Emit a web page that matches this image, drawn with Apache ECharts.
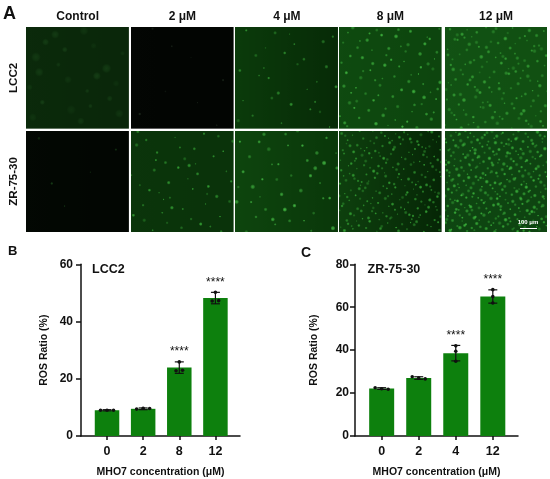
<!DOCTYPE html>
<html>
<head>
<meta charset="utf-8">
<script src="https://cdn.jsdelivr.net/npm/echarts@6/dist/echarts.min.js"></script>
<style>
  html, body { margin: 0; padding: 0; background: #fff; }
  #main { width: 550px; height: 479px; }
</style>
</head>
<body>
<div id="main"></div>
<script>
// panel A headings
const doseLabels = ['Control', '2 μM', '4 μM', '8 μM', '12 μM']
const cellLines = ['LCC2', 'ZR-75-30']

// panel B - LCC2
const catsB = ['0', '2', '8', '12']
const meanB = [9.0, 9.5, 23.9, 48.2]
const sdB = [0.2, 0.3, 2.0, 2.0]
const pointsB = [[9.0, 9.0, 9.0], [9.4, 9.7, 9.6], [22.8, 25.9, 23.0], [47.2, 50.2, 47.3]]
const sigB = ['', '', '****', '****']

// panel C - ZR-75-30
const catsC = ['0', '2', '4', '12']
const meanC = [22.1, 27.0, 38.6, 65.0]
const sdC = [0.4, 0.6, 3.6, 3.1]
const pointsC = [[22.5, 22.0, 21.8], [27.6, 27.0, 26.6], [39.5, 42.0, 34.8], [65.0, 68.2, 62.0]]
const sigC = ['', '', '****', '****']

const FONT = '"Liberation Sans", Arial, sans-serif'
const BAR_GREEN = '#0d800d'

// look of the fluorescence tiles (decoration only, not chart data)
const tileLook = [
  [
    { bg: ['#0b2a0b', '#0a270a'], n: 22, r: 2.4, c: [50, 120, 50], a: 0.3 },
    { bg: ['#030603', '#020502'], n: 8, r: 0.8, c: [100, 140, 100], a: 0.3 },
    { bg: ['#0b3b0b', '#072b07'], n: 30, r: 1.0, c: [70, 200, 70], a: 0.75 },
    { bg: ['#0f4a10', '#0d450e'], n: 85, r: 1.1, c: [80, 220, 80], a: 0.8 },
    { bg: ['#125214', '#115012'], n: 150, r: 1.1, c: [75, 210, 75], a: 0.7 },
  ],
  [
    { bg: ['#030803', '#020602'], n: 5, r: 0.9, c: [60, 160, 60], a: 0.5 },
    { bg: ['#0b350b', '#0a330a'], n: 50, r: 1.0, c: [70, 210, 70], a: 0.75 },
    { bg: ['#0e450e', '#0a380a'], n: 45, r: 1.2, c: [85, 225, 85], a: 0.8 },
    { bg: ['#0e400e', '#062606'], n: 230, r: 0.95, c: [70, 210, 70], a: 0.75 },
    { bg: ['#0f4612', '#0e4411'], n: 330, r: 1.05, c: [75, 220, 75], a: 0.8 },
  ],
]

const tileX = [26.3, 130.9, 235.4, 338.9, 444.6]
const tileY = [27, 130.5]
const tileW = 102.8
const tileH = 101.8

function halton(i, b) {
  let f = 1
  let r = 0
  while (i > 0) {
    f = f / b
    r = r + f * (i % b)
    i = Math.floor(i / b)
  }
  return r
}

// draws one microscopy-like tile onto a canvas
function makeTile(look, seed) {
  const s = 2
  const cv = document.createElement('canvas')
  cv.width = Math.round(tileW * s)
  cv.height = Math.round(tileH * s)
  const ctx = cv.getContext('2d')
  ctx.scale(s, s)
  const g = ctx.createLinearGradient(0, 0, tileW, 0)
  g.addColorStop(0, look.bg[0])
  g.addColorStop(1, look.bg[1])
  ctx.fillStyle = g
  ctx.fillRect(0, 0, tileW, tileH)
  for (let i = 1; i <= look.n; i++) {
    const k = i + seed
    const x = halton(k, 2) * tileW
    const y = halton(k, 3) * tileH
    const r = look.r * (0.6 + 0.8 * halton(k, 5))
    const a = look.a * (0.4 + 0.6 * halton(k, 7))
    const rg = ctx.createRadialGradient(x, y, 0, x, y, r * 1.5)
    rg.addColorStop(0, `rgba(${look.c[0]},${look.c[1]},${look.c[2]},${a})`)
    rg.addColorStop(0.6, `rgba(${look.c[0]},${look.c[1]},${look.c[2]},${a * 0.6})`)
    rg.addColorStop(1, `rgba(${look.c[0]},${look.c[1]},${look.c[2]},0)`)
    ctx.fillStyle = rg
    ctx.beginPath()
    ctx.arc(x, y, r * 1.5, 0, Math.PI * 2)
    ctx.fill()
  }
  return cv
}

const graphics = []
tileLook.forEach((row, ri) => {
  row.forEach((look, ci) => {
    graphics.push({
      type: 'image',
      silent: true,
      style: { image: makeTile(look, ri * 500 + ci * 97 + 3), x: tileX[ci], y: tileY[ri], width: tileW, height: tileH },
    })
  })
})
doseLabels.forEach((t, ci) => {
  graphics.push({
    type: 'text',
    silent: true,
    style: { text: t, x: tileX[ci] + tileW / 2, y: 17, align: 'center', verticalAlign: 'middle', font: `bold 12px ${FONT}`, fill: '#111' },
  })
})
cellLines.forEach((t, ri) => {
  graphics.push({
    type: 'text',
    silent: true,
    x: 14,
    y: tileY[ri] + tileH / 2,
    rotation: Math.PI / 2,
    style: { text: t, x: 0, y: 0, align: 'center', verticalAlign: 'middle', font: `bold 11.5px ${FONT}`, fill: '#111' },
  })
})
// scale bar
graphics.push({
  type: 'text',
  silent: true,
  style: { text: '100 μm', x: 528, y: 222, align: 'center', verticalAlign: 'middle', font: `bold 6px ${FONT}`, fill: '#fff' },
})
graphics.push({
  type: 'line',
  silent: true,
  shape: { x1: 520, y1: 228.5, x2: 537, y2: 228.5 },
  style: { stroke: '#fff', lineWidth: 1 },
})
// panel letters and chart titles
graphics.push({ type: 'text', silent: true, style: { text: 'A', x: 3, y: 14, verticalAlign: 'middle', font: `bold 18px ${FONT}`, fill: '#111' } })
graphics.push({ type: 'text', silent: true, style: { text: 'B', x: 8, y: 251.5, verticalAlign: 'middle', font: `bold 13px ${FONT}`, fill: '#111' } })
graphics.push({ type: 'text', silent: true, style: { text: 'C', x: 301, y: 253.5, verticalAlign: 'middle', font: `bold 14px ${FONT}`, fill: '#111' } })
graphics.push({ type: 'text', silent: true, style: { text: 'LCC2', x: 92, y: 269.5, verticalAlign: 'middle', font: `bold 12.5px ${FONT}`, fill: '#111' } })
graphics.push({ type: 'text', silent: true, style: { text: 'ZR-75-30', x: 367.5, y: 269.5, verticalAlign: 'middle', font: `bold 12.5px ${FONT}`, fill: '#111' } })

function errorRender(params, api) {
  const x = api.value(0)
  const m = api.value(1)
  const s = api.value(2)
  const hi = api.coord([x, m + s])
  const lo = api.coord([x, m - s])
  const cap = 4.5
  const st = { stroke: '#111', lineWidth: 1.2 }
  return {
    type: 'group',
    children: [
      { type: 'line', shape: { x1: hi[0], y1: hi[1], x2: lo[0], y2: lo[1] }, style: st },
      { type: 'line', shape: { x1: hi[0] - cap, y1: hi[1], x2: hi[0] + cap, y2: hi[1] }, style: st },
      { type: 'line', shape: { x1: lo[0] - cap, y1: lo[1], x2: lo[0] + cap, y2: lo[1] }, style: st },
    ],
  }
}

// replicate dots, spread sideways only when they overlap
function pointRender(points) {
  return function (params, api) {
    const i = api.value(0)
    const v = api.value(1)
    const k = api.value(2)
    const ys = points[i].map((p) => api.coord([i, p])[1])
    const near = ys.map((yy, j) => j).filter((j) => Math.abs(ys[j] - ys[k]) < 4)
    const off = (near.indexOf(k) - (near.length - 1) / 2) * 6.5
    const c = api.coord([i, v])
    return { type: 'circle', shape: { cx: c[0] + off, cy: c[1], r: 1.8 }, style: { fill: '#111' } }
  }
}

const sigAll = [sigB, sigC]
function starRender(params, api) {
  const c = api.coord([api.value(0), api.value(1)])
  const t = sigAll[params.seriesIndex === 3 ? 0 : 1][params.dataIndex]
  return {
    type: 'text',
    style: { text: t, x: c[0], y: c[1] - 10, align: 'center', verticalAlign: 'middle', font: `12px ${FONT}`, fill: '#111' },
  }
}

function xAxisFor(gi, cats) {
  return {
    gridIndex: gi,
    type: 'value',
    min: -0.72,
    max: 3.68,
    name: 'MHO7 concentration (μM)',
    nameLocation: 'middle',
    nameGap: 31,
    nameTextStyle: { color: '#111', fontFamily: FONT, fontWeight: 'bold', fontSize: 10.5 },
    axisLine: { show: true, onZero: false, lineStyle: { color: '#111', width: 1.5 } },
    axisTick: { show: true, customValues: [0, 1, 2, 3], length: 4, lineStyle: { color: '#111', width: 1.5 } },
    axisLabel: {
      customValues: [0, 1, 2, 3],
      formatter: (v) => cats[Math.round(v)],
      margin: 9,
      color: '#111',
      fontFamily: FONT,
      fontWeight: 'bold',
      fontSize: 12.5,
    },
    splitLine: { show: false },
  }
}

function yAxisFor(gi, max) {
  return {
    gridIndex: gi,
    type: 'value',
    min: 0,
    max: max,
    interval: 20,
    name: 'ROS Ratio (%)',
    nameLocation: 'middle',
    nameGap: gi === 0 ? 31 : 35,
    nameTextStyle: { color: '#111', fontFamily: FONT, fontWeight: 'bold', fontSize: 10.5 },
    axisLine: { show: true, onZero: false, lineStyle: { color: '#111', width: 1.5 } },
    axisTick: { show: true, length: 5, lineStyle: { color: '#111', width: 1.5 } },
    axisLabel: { margin: gi === 0 ? 8 : 6, color: '#111', fontFamily: FONT, fontWeight: 'bold', fontSize: 12 },
    splitLine: { show: false },
  }
}

function seriesFor(gi, mean, sd, points, barW) {
  const flat = []
  points.forEach((arr, i) => arr.forEach((p, k) => flat.push([i, p, k])))
  return [
    {
      type: 'bar',
      xAxisIndex: gi,
      yAxisIndex: gi,
      barWidth: barW,
      itemStyle: { color: BAR_GREEN },
      data: mean.map((v, i) => [i, v]),
      silent: true,
    },
    {
      type: 'custom',
      xAxisIndex: gi,
      yAxisIndex: gi,
      renderItem: errorRender,
      data: mean.map((v, i) => [i, v, sd[i]]),
      silent: true,
      z: 3,
    },
    {
      type: 'custom',
      xAxisIndex: gi,
      yAxisIndex: gi,
      renderItem: pointRender(points),
      data: flat,
      silent: true,
      z: 4,
    },
  ]
}

const sB = seriesFor(0, meanB, sdB, pointsB, 24.5)
const sC = seriesFor(1, meanC, sdC, pointsC, 25)
const starB = {
  type: 'custom', xAxisIndex: 0, yAxisIndex: 0, renderItem: starRender, silent: true, z: 5,
  data: meanB.map((v, i) => [i, v + sdB[i]]),
}
const starC = {
  type: 'custom', xAxisIndex: 1, yAxisIndex: 1, renderItem: starRender, silent: true, z: 5,
  data: meanC.map((v, i) => [i, v + sdC[i]]),
}

const chart = echarts.init(document.getElementById('main'), null, { renderer: 'canvas' })
chart.setOption({
  animation: false,
  backgroundColor: '#fff',
  textStyle: { fontFamily: FONT },
  grid: [
    { left: 81, top: 264.3, width: 159, height: 173.2 },
    { left: 355, top: 264.3, width: 163, height: 174.2 },
  ],
  xAxis: [xAxisFor(0, catsB), xAxisFor(1, catsC)],
  yAxis: [yAxisFor(0, 60), yAxisFor(1, 80)],
  // order: B bar/err/dots, star B, C bar/err/dots, star C
  series: [sB[0], sB[1], sB[2], starB, sC[0], sC[1], sC[2], starC],
  graphic: graphics,
})
</script>
</body>
</html>
